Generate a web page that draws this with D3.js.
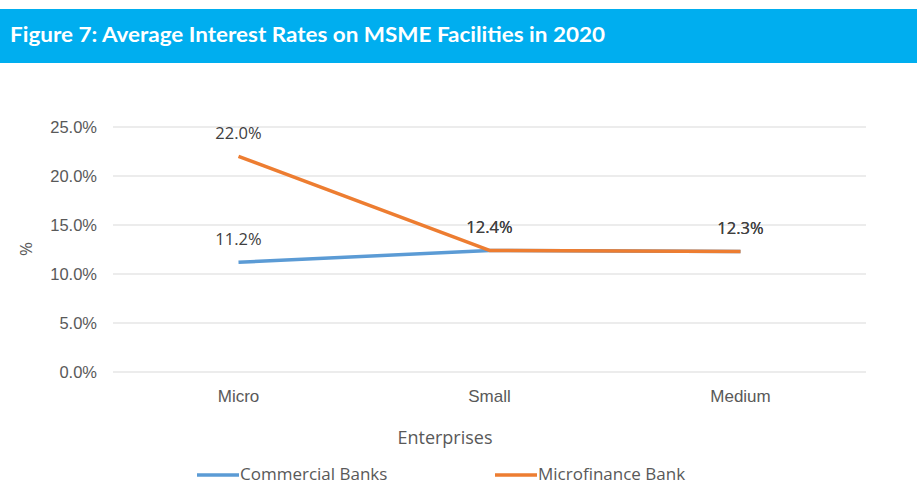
<!DOCTYPE html>
<html>
<head>
<meta charset="utf-8">
<script src="https://cdn.jsdelivr.net/npm/d3@7"></script>
<style>
  html, body { margin: 0; padding: 0; background: #ffffff; }
  svg { display: block; font-family: "Open Sans", "Noto Sans", sans-serif; }
</style>
</head>
<body>
<svg id="chart" width="917" height="500"></svg>
<script>
// Enterprise size categories
const categories = ["Micro", "Small", "Medium"];
// Average interest rates (%) by lender type
const commercialBanks = [11.2, 12.4, 12.3];
const microfinanceBank = [22.0, 12.4, 12.3];
// Y-axis tick values (%)
const yTicks = [0, 5, 10, 15, 20, 25];
const seriesNames = ["Commercial Banks", "Microfinance Bank"];

const series = [
  { name: seriesNames[0], values: commercialBanks, color: "#5b9bd5" },
  { name: seriesNames[1], values: microfinanceBank, color: "#ed7d31" }
];

const svg = d3.select("#chart");
const W = 917, H = 500;

// Title banner
svg.append("rect").attr("x", 0).attr("y", 9).attr("width", W).attr("height", 54).attr("fill", "#00aeef");
svg.append("text")
  .attr("x", 10).attr("y", 37)
  .attr("fill", "#ffffff")
  .attr("font-family", "Lato, sans-serif")
  .attr("font-size", 21).attr("font-weight", 700)
  .attr("dominant-baseline", "middle")
  .attr("textLength", 595).attr("lengthAdjust", "spacingAndGlyphs")
  .text("Figure 7: Average Interest Rates on MSME Facilities in 2020");

const margin = { left: 113, right: 51, top: 127, bottom: 128 };
const plotW = W - margin.left - margin.right;
const plotH = H - margin.top - margin.bottom;

const x = d3.scaleBand().domain(categories).range([margin.left, margin.left + plotW]);
const y = d3.scaleLinear().domain([0, 25]).range([margin.top + plotH, margin.top]);

// Horizontal gridlines
svg.append("g").selectAll("line").data(yTicks).join("line")
  .attr("x1", margin.left).attr("x2", margin.left + plotW)
  .attr("y1", d => y(d)).attr("y2", d => y(d))
  .attr("stroke", "#d9d9d9").attr("stroke-width", 1);

// Y axis labels
const yAxis = d3.axisLeft(y).tickValues(yTicks).tickFormat(d => d.toFixed(1) + "%").tickSize(0).tickPadding(16);
const gy = svg.append("g").attr("transform", `translate(${margin.left},0)`).call(yAxis);
gy.select(".domain").remove();
gy.selectAll("text").attr("font-size", 16.5).attr("fill", "#595959").style("font-family", "inherit");

// X axis labels
const xAxis = d3.axisBottom(x).tickSize(0).tickPadding(18);
const gx = svg.append("g").attr("transform", `translate(0,${margin.top + plotH})`).call(xAxis);
gx.select(".domain").remove();
gx.selectAll("text").attr("font-size", 17).attr("fill", "#595959").style("font-family", "inherit");

// Axis titles
svg.append("text").attr("transform", "translate(27,249) rotate(-90)")
  .attr("text-anchor", "middle").attr("dominant-baseline", "middle")
  .attr("font-size", 17).attr("fill", "#595959").text("%");
svg.append("text").attr("x", 445).attr("y", 439)
  .attr("text-anchor", "middle").attr("dominant-baseline", "middle")
  .attr("font-size", 18).attr("fill", "#595959").text("Enterprises");

// Lines
const line = d3.line().x((d, i) => x(categories[i]) + x.bandwidth() / 2).y(d => y(d));
svg.append("g").selectAll("path").data(series).join("path")
  .attr("d", s => line(s.values))
  .attr("fill", "none").attr("stroke", s => s.color).attr("stroke-width", 3.5)
  .attr("stroke-linejoin", "round");

// Data labels
series.forEach(s => {
  svg.append("g").selectAll("text").data(s.values).join("text")
    .attr("x", (d, i) => x(categories[i]) + x.bandwidth() / 2)
    .attr("y", d => y(d) - 22)
    .attr("text-anchor", "middle").attr("dominant-baseline", "middle")
    .attr("font-size", 16.5).attr("fill", "#404040")
    .text(d => d.toFixed(1) + "%");
});

// Legend
const legendX = [197, 495];
const lg = svg.append("g").selectAll("g").data(series).join("g")
  .attr("transform", (s, i) => `translate(${legendX[i]},475)`);
lg.append("line").attr("x1", 0).attr("x2", 42).attr("y1", 0).attr("y2", 0)
  .attr("stroke", s => s.color).attr("stroke-width", 3.5);
lg.append("text").attr("x", 43).attr("y", 0).attr("dominant-baseline", "middle")
  .attr("font-size", 17).attr("fill", "#595959").text(s => s.name);
</script>
</body>
</html>
